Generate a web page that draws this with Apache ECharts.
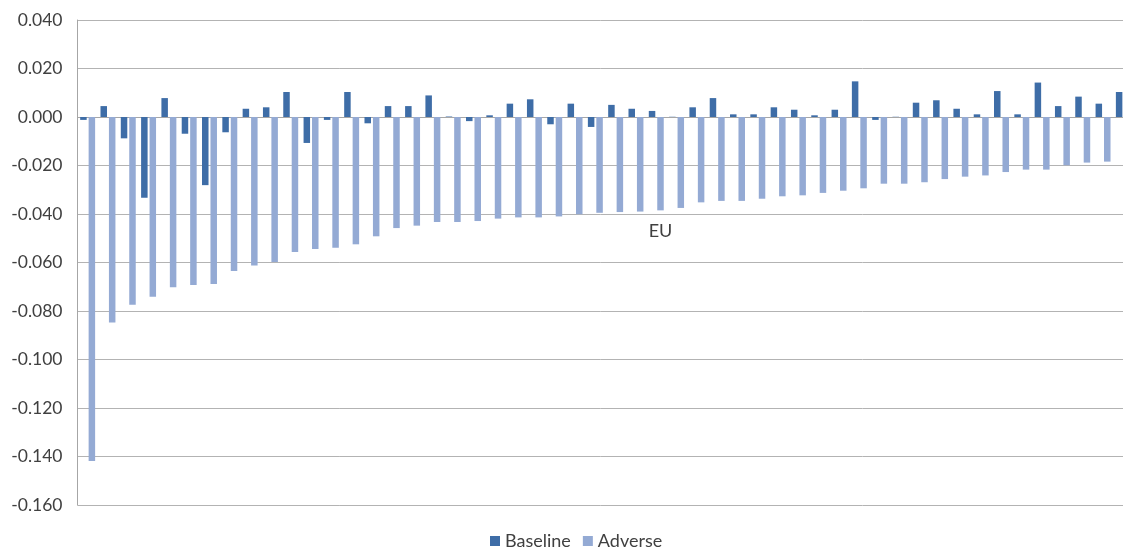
<!DOCTYPE html>
<html>
<head>
<meta charset="utf-8">
<script src="https://cdn.jsdelivr.net/npm/echarts@6/dist/echarts.min.js"></script>
<style>
html,body{margin:0;padding:0;background:#fff;}
#chart{width:1123px;height:548px;}
</style>
</head>
<body>
<div id="chart"></div>
<script>
// Categories (52 banks / entities; index 28 is the EU aggregate)
const categories = [
  'B01','B02','B03','B04','B05','B06','B07','B08','B09','B10',
  'B11','B12','B13','B14','B15','B16','B17','B18','B19','B20',
  'B21','B22','B23','B24','B25','B26','B27','B28','EU','B30',
  'B31','B32','B33','B34','B35','B36','B37','B38','B39','B40',
  'B41','B42','B43','B44','B45','B46','B47','B48','B49','B50',
  'B51','B52'
];
const baseline = [
  -0.0012, 0.0045, -0.0088, -0.0333, 0.0078, -0.0069, -0.0281, -0.0063, 0.0034, 0.0040,
  0.0103, -0.0107, -0.0012, 0.0103, -0.0026, 0.0045, 0.0045, 0.0089, 0.0002, -0.0017,
  0.0007, 0.0055, 0.0073, -0.0030, 0.0055, -0.0041, 0.0050, 0.0034, 0.0025, 0.0001,
  0.0040, 0.0078, 0.0011, 0.0011, 0.0040, 0.0030, 0.0007, 0.0030, 0.0147, -0.0012,
  0.0001, 0.0059, 0.0069, 0.0034, 0.0011, 0.0107, 0.0011, 0.0142, 0.0045, 0.0084,
  0.0055, 0.0103
];
const adverse = [
  -0.1419, -0.0847, -0.0774, -0.0741, -0.0702, -0.0693, -0.0689, -0.0635, -0.0612, -0.0598,
  -0.0557, -0.0544, -0.0539, -0.0525, -0.0492, -0.0458, -0.0448, -0.0433, -0.0433, -0.0429,
  -0.0419, -0.0414, -0.0414, -0.0410, -0.0401, -0.0395, -0.0392, -0.0390, -0.0385, -0.0375,
  -0.0352, -0.0346, -0.0346, -0.0337, -0.0327, -0.0323, -0.0313, -0.0304, -0.0294, -0.0275,
  -0.0275, -0.0269, -0.0256, -0.0246, -0.0241, -0.0227, -0.0217, -0.0217, -0.0199, -0.0188,
  -0.0184, -0.0180
];
const seriesNames = ['Baseline', 'Adverse'];
const labelledCategory = 'EU';

const chart = echarts.init(document.getElementById('chart'), null, {renderer: 'canvas'});
const FONT = 'Lato, "Open Sans", sans-serif';

const adverseData = adverse.map((v, i) => categories[i] === labelledCategory
  ? {value: v, label: {show: true, position: 'bottom', distance: 12, formatter: labelledCategory,
      color: '#404040', fontSize: 18, fontFamily: FONT}}
  : v);

chart.setOption({
  animation: false,
  backgroundColor: '#ffffff',
  grid: {left: 77.5, top: 20, width: 1056, height: 485, containLabel: false,
         outerBoundsMode: 'none'},
  legend: {
    data: seriesNames,
    left: 490, top: 532, padding: 0,
    itemWidth: 10, itemHeight: 10, itemGap: 12,
    icon: 'rect',
    textStyle: {fontSize: 18, fontFamily: FONT, color: '#404040'}
  },
  xAxis: {
    type: 'category',
    data: categories,
    axisLine: {show: true, onZero: true, lineStyle: {color: '#a6a6a6', width: 1}},
    axisTick: {show: false},
    axisLabel: {show: false},
    splitLine: {show: false}
  },
  yAxis: {
    type: 'value',
    min: -0.16, max: 0.04, interval: 0.02,
    axisLine: {show: true, lineStyle: {color: '#a6a6a6', width: 1}},
    axisTick: {show: false},
    axisLabel: {
      formatter: v => v.toFixed(3),
      fontSize: 17.5, fontFamily: FONT, color: '#404040', margin: 15
    },
    splitLine: {show: true, lineStyle: {color: '#b3b3b3', width: 1}}
  },
  series: [
    {name: seriesNames[0], type: 'bar', data: baseline, barWidth: 6.5, barGap: '30%',
     itemStyle: {color: '#3e6da7'}},
    {name: seriesNames[1], type: 'bar', data: adverseData, barWidth: 6.5, barGap: '30%',
     itemStyle: {color: '#94aad4'}}
  ]
});
</script>
</body>
</html>
